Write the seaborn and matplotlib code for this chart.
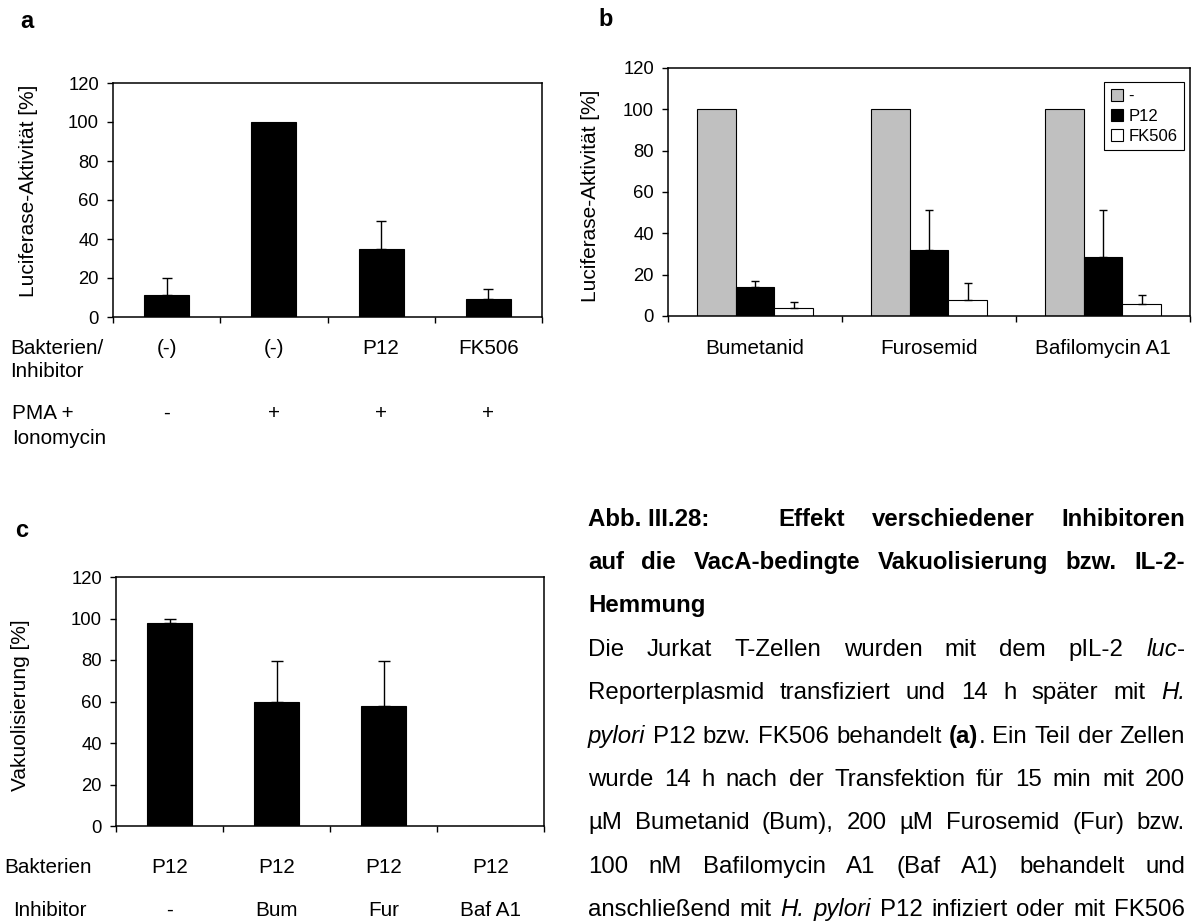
import numpy as np
import pandas as pd
import matplotlib
matplotlib.use("Agg")
import matplotlib.pyplot as plt
import matplotlib.transforms as mtransforms
import seaborn as sns

# ---------------- data ----------------
# (a) luciferase activity, Jurkat cells
a_keys = ["ohne", "PMA/Iono", "P12", "FK506"]
a_row_bakterien = ["(-)", "(-)", "P12", "FK506"]
a_row_pma = ["-", "+", "+", "+"]
a_values = [11.4, 100.0, 34.8, 9.0]
a_errors = [8.4, 0.0, 14.3, 5.3]

# (b) luciferase activity with inhibitors
b_inhibitors = ["Bumetanid", "Furosemid", "Bafilomycin A1"]
b_series = ["-", "P12", "FK506"]
b_ctrl = [100.0, 100.0, 100.0]
b_p12 = [14.2, 31.7, 28.6]
b_p12_err = [2.9, 19.7, 22.8]
b_fk506 = [3.9, 7.75, 6.0]
b_fk506_err = [3.0, 8.05, 4.0]
b_colors = ["#c0c0c0", "#000000", "#ffffff"]

# (c) vacuolisation
c_bakterien = ["P12", "P12", "P12", "P12"]
c_inhibitor = ["-", "Bum", "Fur", "Baf A1"]
c_values = [97.7, 59.8, 57.7, 0.0]
c_errors = [2.0, 19.7, 21.8, 0.0]

# ---------------- style ----------------
sns.set_theme(style="ticks")
FONT = ["Liberation Sans", "DejaVu Sans"]
plt.rcParams["font.family"] = FONT
for key in ["text.color", "axes.labelcolor", "xtick.color", "ytick.color", "axes.edgecolor"]:
    plt.rcParams[key] = "black"

W, H = 1192, 922
fig = plt.figure(figsize=(W / 100, H / 100), dpi=100)
fig.patch.set_facecolor("white")


def rect(l, r, t, b):
    return [l / W, 1 - b / H, (r - l) / W, (b - t) / H]


ax_a = fig.add_axes(rect(113, 542, 83, 317))
ax_b = fig.add_axes(rect(668, 1190, 68, 316))
ax_c = fig.add_axes(rect(116, 544, 577, 826))

TICK_PT = 13.3
LABEL_PT = 15.0
ROW_PT = 14.9
CAP_PT = 17.3


def style_axes(ax, n, ylabel, lab_x, lab_y):
    ax.set_ylim(0, 120)
    ax.set_yticks(range(0, 121, 20))
    ax.set_xlim(-0.5, n - 0.5)
    ax.set_xticks(np.arange(-0.5, n, 1.0))
    ax.set_xticklabels([])
    ax.tick_params(axis="x", length=4, width=1.0, direction="out")
    ax.tick_params(axis="y", length=4, width=1.0, direction="out",
                   labelsize=TICK_PT, pad=6)
    for s in ax.spines.values():
        s.set_visible(True)
        s.set_linewidth(1.1)
        s.set_color("black")
    ax.set_xlabel("")
    ax.set_ylabel(ylabel, fontsize=LABEL_PT)
    ax.yaxis.set_label_coords(lab_x, lab_y)
    ax.set_facecolor("white")


def add_errors(ax, container, values, errs, cap):
    xs, ys, es = [], [], []
    for p, v, e in zip(container.patches, values, errs):
        if e > 0:
            xs.append(p.get_x() + p.get_width() / 2)
            ys.append(v)
            es.append(e)
    ax.errorbar(xs, ys, yerr=[np.zeros(len(es)), es], fmt="none",
                ecolor="black", elinewidth=1.0, capsize=cap, capthick=1.0,
                zorder=1)


# ---------------- panel a ----------------
df_a = pd.DataFrame({"key": a_keys, "wert": a_values})
sns.barplot(data=df_a, x="key", y="wert", order=a_keys, color="black",
            saturation=1, width=0.42, edgecolor="black", linewidth=0.8,
            errorbar=None, ax=ax_a)
add_errors(ax_a, ax_a.containers[0], a_values, a_errors, 3.6)
style_axes(ax_a, 4, "Luciferase-Aktivität [%]", -0.175, 0.54)

# ---------------- panel b ----------------
df_b = pd.DataFrame({
    "inhibitor": b_inhibitors * 3,
    "gruppe": [b_series[0]] * 3 + [b_series[1]] * 3 + [b_series[2]] * 3,
    "wert": b_ctrl + b_p12 + b_fk506,
})
sns.barplot(data=df_b, x="inhibitor", y="wert", hue="gruppe",
            order=b_inhibitors, hue_order=b_series, palette=b_colors,
            saturation=1, width=0.67, edgecolor="black", linewidth=0.8,
            errorbar=None, ax=ax_b)
add_errors(ax_b, ax_b.containers[1], b_p12, b_p12_err, 2.6)
add_errors(ax_b, ax_b.containers[2], b_fk506, b_fk506_err, 2.6)
style_axes(ax_b, 3, "Luciferase-Aktivität [%]", -0.130, 0.484)
leg = ax_b.legend(loc="upper right", bbox_to_anchor=(1184 / W, 1 - 82 / H),
                  bbox_transform=fig.transFigure, frameon=True, fancybox=False,
                  edgecolor="black", framealpha=1, fontsize=12, title=None,
                  handlelength=0.75, handleheight=0.75, handletextpad=0.3,
                  labelspacing=0.3, borderpad=0.4, borderaxespad=0)
leg.get_frame().set_linewidth(0.8)

# ---------------- panel c ----------------
df_c = pd.DataFrame({"inhibitor": c_inhibitor, "wert": c_values})
sns.barplot(data=df_c, x="inhibitor", y="wert", order=c_inhibitor,
            color="black", saturation=1, width=0.42, edgecolor="black",
            linewidth=0.8, errorbar=None, ax=ax_c)
add_errors(ax_c, ax_c.containers[0], c_values, c_errors, 4.0)
style_axes(ax_c, 4, "Vakuolisierung [%]", -0.201, 0.486)


# ---------------- text helpers ----------------
def put(x, y, txt, size, ha="left", weight="normal", style="normal"):
    """Place text with its baseline at pixel (x, y) measured from top-left."""
    return fig.text(x / W, 1 - y / H, txt, fontsize=size, ha=ha,
                    va="baseline", fontweight=weight, fontstyle=style,
                    family=FONT)


def put_row(ax, y, labels, size):
    tr = mtransforms.blended_transform_factory(ax.transData, fig.transFigure)
    for i, lab in enumerate(labels):
        fig.text(i, 1 - y / H, lab, transform=tr, fontsize=size, ha="center",
                 va="baseline", family=FONT)


# caption line positions (baselines), shared with the rows of panel c
CAP_Y0, CAP_DY = 517 + 8.6, 43.4
cap_y = [CAP_Y0 + k * CAP_DY for k in range(10)]

# panel letters
put(20, 28, "a", 17, weight="bold")
put(598, 26, "b", 17, weight="bold")
put(15, 537, "c", 17, weight="bold")

# panel a rows
put(10, 354, "Bakterien/", ROW_PT)
put(10, 377, "Inhibitor", ROW_PT)
put_row(ax_a, 354, a_row_bakterien, ROW_PT)
put(12, 419, "PMA +", ROW_PT)
put(12, 444, "Ionomycin", ROW_PT)
put_row(ax_a, 419, a_row_pma, ROW_PT)

# panel b categories
put_row(ax_b, 354, b_inhibitors, ROW_PT)

# panel c rows
put(48, cap_y[8], "Bakterien", ROW_PT, ha="center")
put(50, cap_y[9], "Inhibitor", ROW_PT, ha="center")
put_row(ax_c, cap_y[8], c_bakterien, ROW_PT)
put_row(ax_c, cap_y[9], c_inhibitor, ROW_PT)

# ---------------- caption (justified block) ----------------
renderer = fig.canvas.get_renderer()
N, B, I = ("normal", "normal"), ("bold", "normal"), ("normal", "italic")


def measure(txt, fmt):
    t = fig.text(0, 0, txt, fontsize=CAP_PT, fontweight=fmt[0],
                 fontstyle=fmt[1], family=FONT)
    w = t.get_window_extent(renderer).width
    t.remove()
    return w


def space_width(fmt):
    return measure("n n", fmt) - measure("nn", fmt)


def words_of(parts):
    """parts: list of (text, fmt); spaces split words, segments keep format."""
    words, cur = [], []
    for txt, fmt in parts:
        pieces = txt.split(" ")
        for k, piece in enumerate(pieces):
            if k > 0:
                if cur:
                    words.append(cur)
                cur = []
            if piece:
                cur.append((piece, fmt))
    if cur:
        words.append(cur)
    return words


def draw_line(parts, y, x0, x1, justify=True):
    words = words_of(parts)
    widths = [[measure(t, f) for t, f in w] for w in words]
    totals = [sum(ws) for ws in widths]
    if justify and len(words) > 1:
        gap = (x1 - x0 - sum(totals)) / (len(words) - 1)
    else:
        gap = space_width(words[0][0][1])
    x = x0
    for w, ws, tot in zip(words, widths, totals):
        xx = x
        for (t, f), sw in zip(w, ws):
            put(xx, y, t, CAP_PT, weight=f[0], style=f[1])
            xx += sw
        x += tot + gap


CX0, CX1 = 588, 1185
put(CX0, cap_y[0], "Abb. III.28:", CAP_PT, weight="bold")
draw_line([("Effekt verschiedener Inhibitoren", B)], cap_y[0], 778, CX1)
draw_line([("auf die VacA-bedingte Vakuolisierung bzw. IL-2-", B)], cap_y[1], CX0, CX1)
draw_line([("Hemmung", B)], cap_y[2], CX0, CX1, justify=False)
draw_line([("Die Jurkat T-Zellen wurden mit dem pIL-2 ", N), ("luc", I), ("-", N)],
          cap_y[3], CX0, CX1)
draw_line([("Reporterplasmid transfiziert und 14 h später mit ", N), ("H.", I)],
          cap_y[4], CX0, CX1)
draw_line([("pylori", I), (" P12 bzw. FK506 behandelt ", N), ("(a)", B),
           (". Ein Teil der Zellen", N)], cap_y[5], CX0, CX1)
draw_line([("wurde 14 h nach der Transfektion für 15 min mit 200", N)],
          cap_y[6], CX0, CX1)
draw_line([("µM Bumetanid (Bum), 200 µM Furosemid (Fur) bzw.", N)],
          cap_y[7], CX0, CX1)
draw_line([("100 nM Bafilomycin A1 (Baf A1) behandelt und", N)],
          cap_y[8], CX0, CX1)
draw_line([("anschließend mit ", N), ("H. pylori", I),
           (" P12 infiziert oder mit FK506", N)], cap_y[9], CX0, CX1)

fig.savefig("out.png", dpi=100, facecolor="white")
